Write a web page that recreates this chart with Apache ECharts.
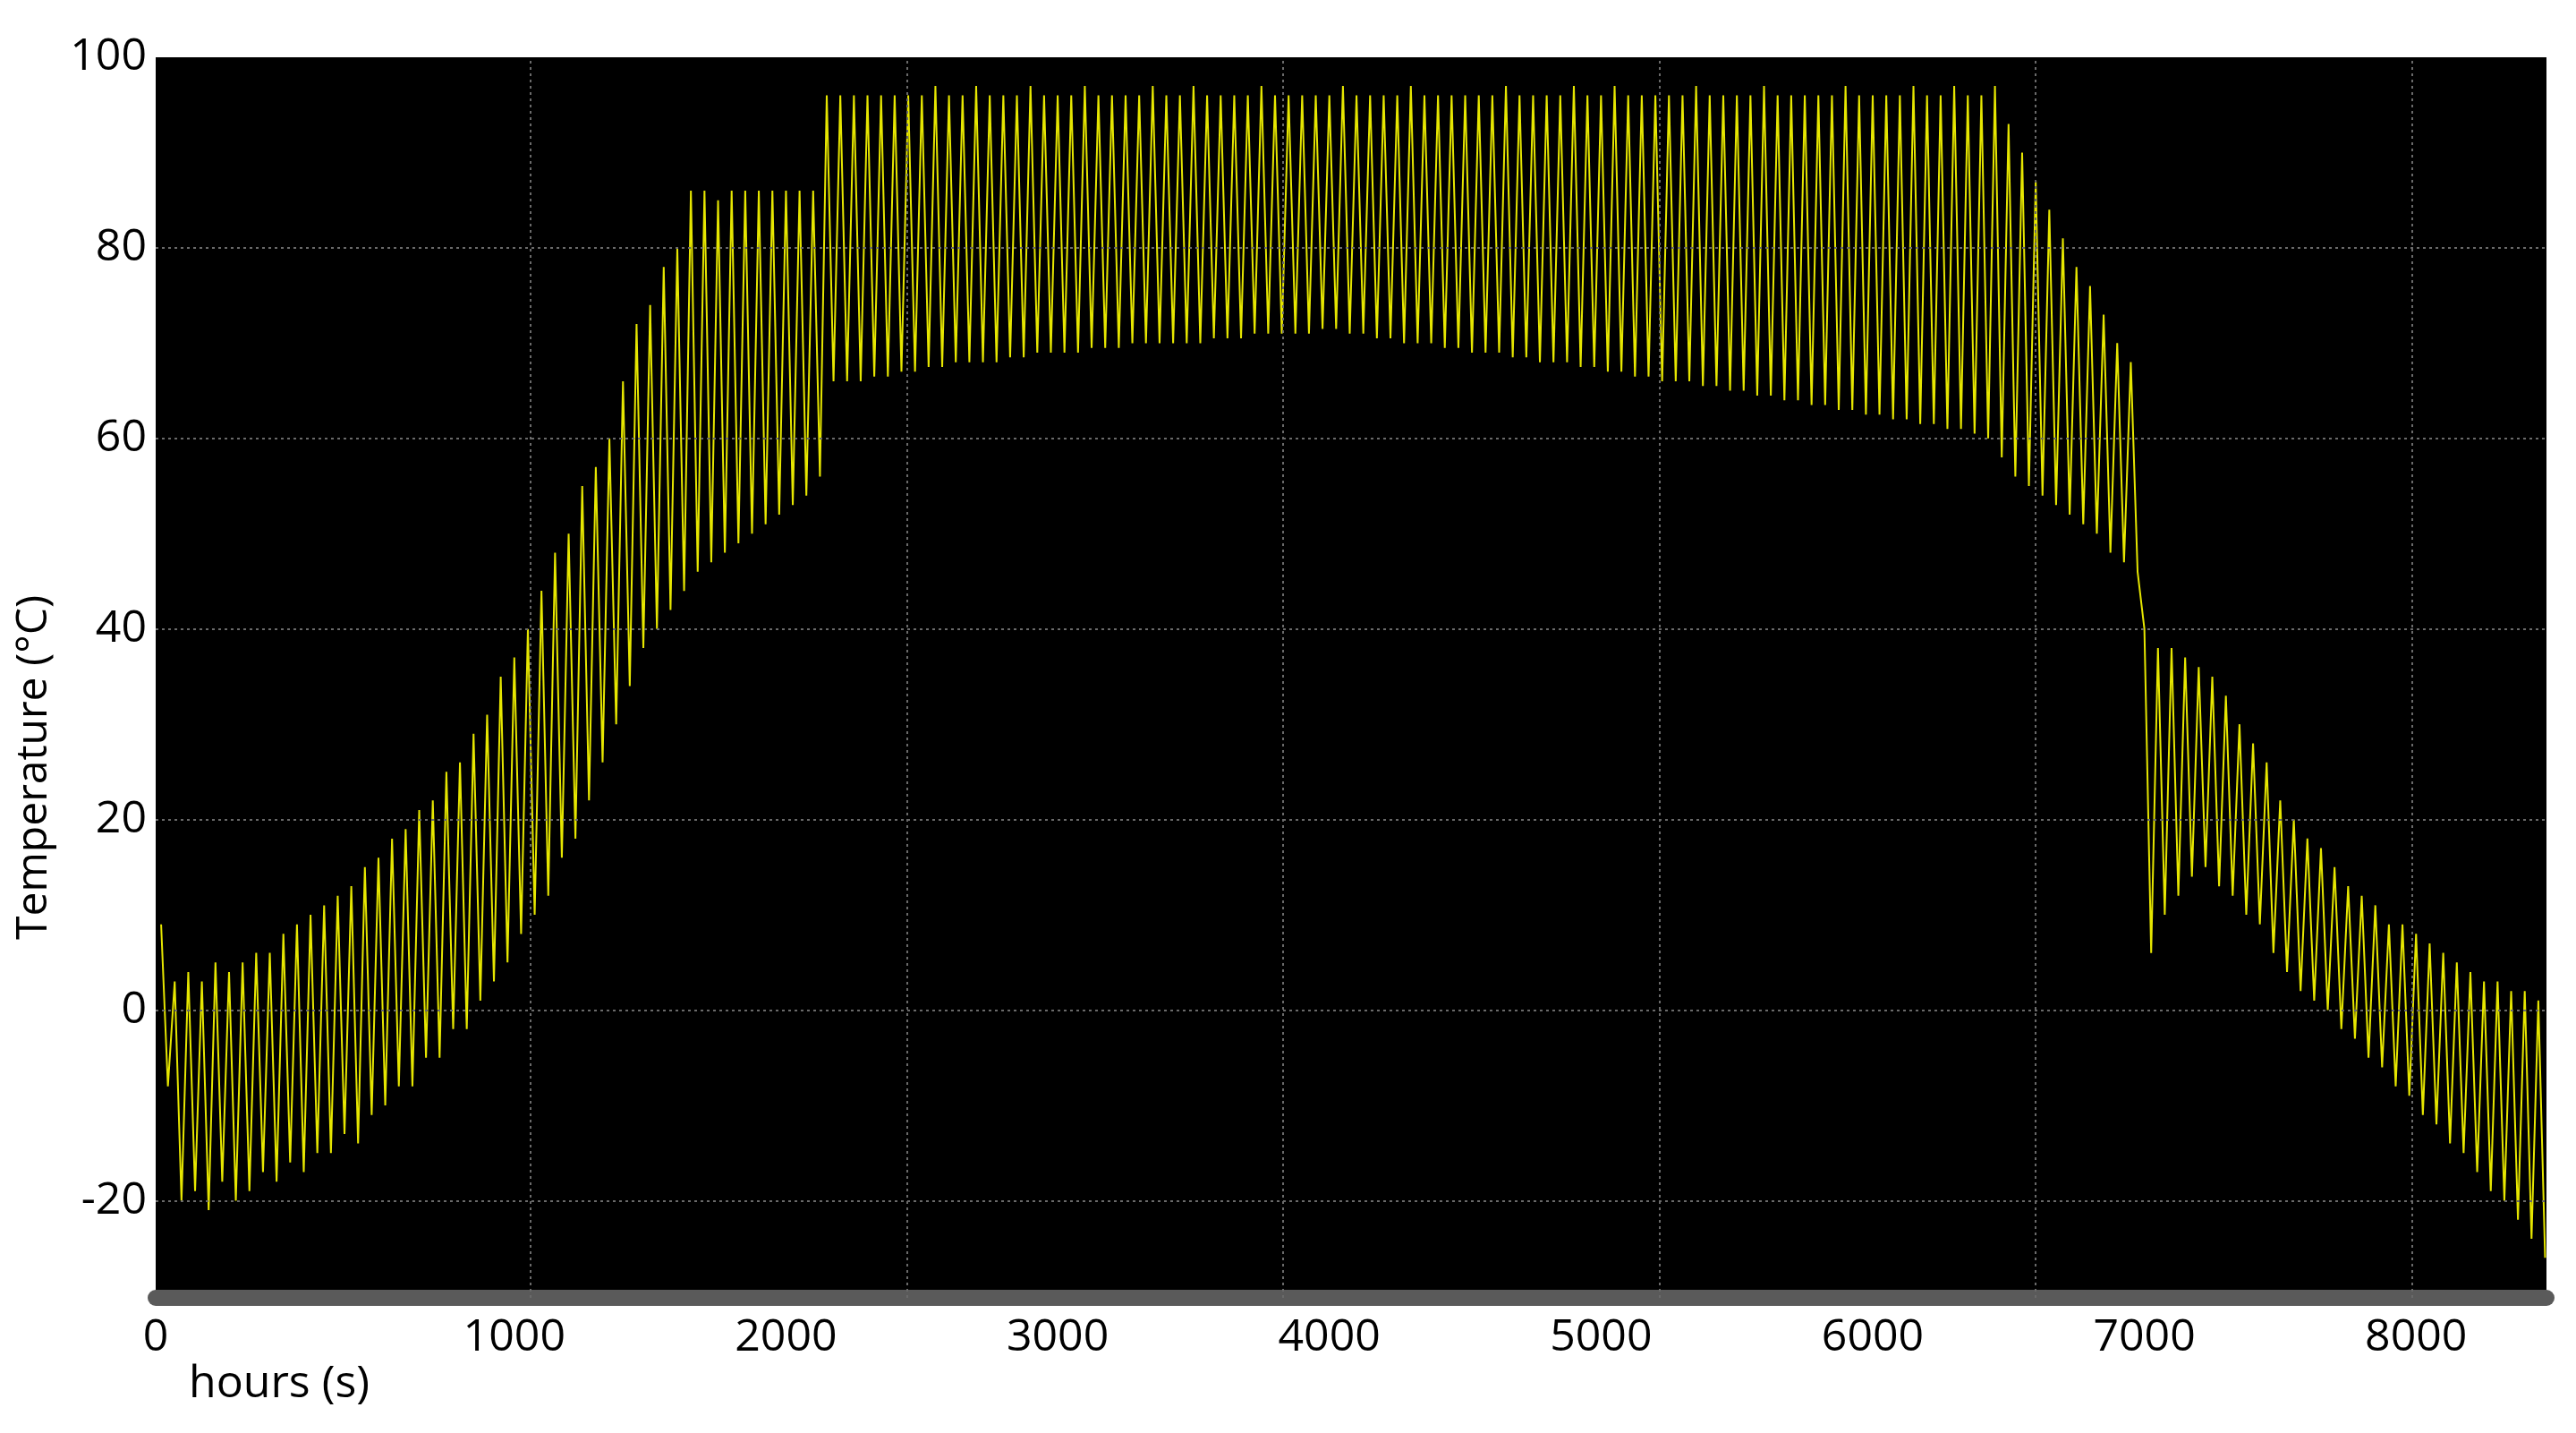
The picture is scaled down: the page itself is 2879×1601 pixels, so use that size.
<!DOCTYPE html>
<html>
<head>
<meta charset="utf-8">
<script src="https://cdn.jsdelivr.net/npm/echarts@6/dist/echarts.min.js"></script>
<style>html,body{margin:0;background:#fff}#main{width:2879px;height:1601px}</style>
</head>
<body>
<div id="main"></div>
<script>
var chartDom = document.getElementById('main');
var myChart = echarts.init(chartDom);

// samples every 50 hours starting at -300; peak (upper) and trough (lower) of each swing
const xStart = -300, xStep = 50;
const upper = [9,3,4,3,5,4,
  5,6,6,8,9,10,11,12,13,15,
  16,18,19,21,22,25,26,29,31,35,
  37,40,44,48,50,55,57,60,66,72,
  74,78,80,86,86,85,86,86,86,86,
  86,86,86,96,96,96,96,96,96,96,
  96,97,96,96,97,96,96,96,97,96,
  96,96,97,96,96,96,96,97,96,96,
  97,96,96,96,96,97,96,96,96,96,
  96,97,96,96,96,96,97,96,96,96,
  96,96,96,97,96,96,96,96,97,96,
  96,97,96,96,96,96,96,97,96,96,
  96,96,97,96,96,96,96,96,97,96,
  96,96,96,97,96,96,97,96,
  96,97,93,90,87,84,81,78,76,73,
  70,68,40,38,38,37,36,35,33,30,
  28,26,22,20,18,17,15,13,12,11,
  9,9,8,7,6,5,4,3,3,2,
  2,1];
const lower = [-8,-20,-19,-21,-18,-20,
  -19,-17,-18,-16,-17,-15,-15,-13,-14,-11,
  -10,-8,-8,-5,-5,-2,-2,1,3,5,
  8,10,12,16,18,22,26,30,34,38,
  40,42,44,46,47,48,49,50,51,52,
  53,54,56,66,66,66,66.5,66.5,67,67,
  67.5,67.5,68,68,68,68,68.5,68.5,69,69,
  69,69,69.5,69.5,69.5,70,70,70,70,70,
  70,70.5,70.5,70.5,71,71,71,71,71,71.5,
  71.5,71,71,70.5,70.5,70,70,70,69.5,69.5,
  69,69,69,68.5,68.5,68,68,68,67.5,67.5,
  67,67,66.5,66.5,66,66,66,65.5,65.5,65,
  65,64.5,64.5,64,64,63.5,63.5,63,63,62.5,
  62.5,62,62,61.5,61.5,61,61,60.5,60,58,
  56,55,54,53,52,51,50,48,47,46,
  6,10,12,14,15,13,12,10,9,6,
  4,2,1,0,-2,-3,-5,-6,-8,-9,
  -11,-12,-14,-15,-17,-19,-20,-22,-24,-26];
const yTicks = [-20, 0, 20, 40, 60, 80, 100];
const xTicks = [-320, 1000, 2000, 3000, 4000, 5000, 6000, 7000, 8000];
const xGrid = [1059, 2444, 3829, 5215, 6600, 7985];
const yGrid = [-20, 0, 20, 40, 60, 80];

const signal = [];
for (let i = 0; i < upper.length; i++) {
  const x = xStart + i * xStep;
  signal.push([x, upper[i]]);
  signal.push([x + xStep / 2, lower[i]]);
}

const gridLine = { color: '#6a6a6a', type: [3, 4], width: 2 };
const font = { fontFamily: 'Open Sans', fontSize: 50, color: '#000' };

var option = {
  backgroundColor: '#fff',
  animation: false,
  grid: { left: 174, right: 33, top: 64, bottom: 151, show: true, backgroundColor: '#000', borderWidth: 0 },
  xAxis: {
    type: 'value', min: -320, max: 8480,
    axisLine: { show: true, onZero: false, lineStyle: { color: '#5a5a5a', width: 18 } },
    axisTick: { show: false },
    splitLine: { show: false },
    axisLabel: {
      customValues: xTicks, margin: 20, ...font,
      formatter: v => (v < 0 ? '0' : String(v))
    }
  },
  yAxis: {
    type: 'value', min: -30.2, max: 100,
    axisLine: { show: false }, axisTick: { show: false }, splitLine: { show: false },
    axisLabel: { customValues: yTicks, margin: 10, verticalAlign: 'middle', lineHeight: 60, padding: [0, 0, 16, 0], ...font }
  },
  graphic: [
    { type: 'text', left: 211, top: 1522, style: { text: 'hours (s)', fill: '#000', font: '50px "Open Sans"' } },
    { type: 'text', x: 14, y: 1050, rotation: Math.PI / 2, style: { text: 'Temperature (°C)', fill: '#000', font: '48px "Open Sans"' } }
  ],
  series: [{
    type: 'line',
    data: signal,
    symbol: 'none',
    lineStyle: { color: '#e6e600', width: 2 },
    markLine: {
      silent: true, symbol: 'none', label: { show: false },
      lineStyle: gridLine,
      data: xGrid.map(v => ({ xAxis: v })).concat(yGrid.map(v => ({ yAxis: v })))
    }
  }]
};

option && myChart.setOption(option);
</script>
</body>
</html>
